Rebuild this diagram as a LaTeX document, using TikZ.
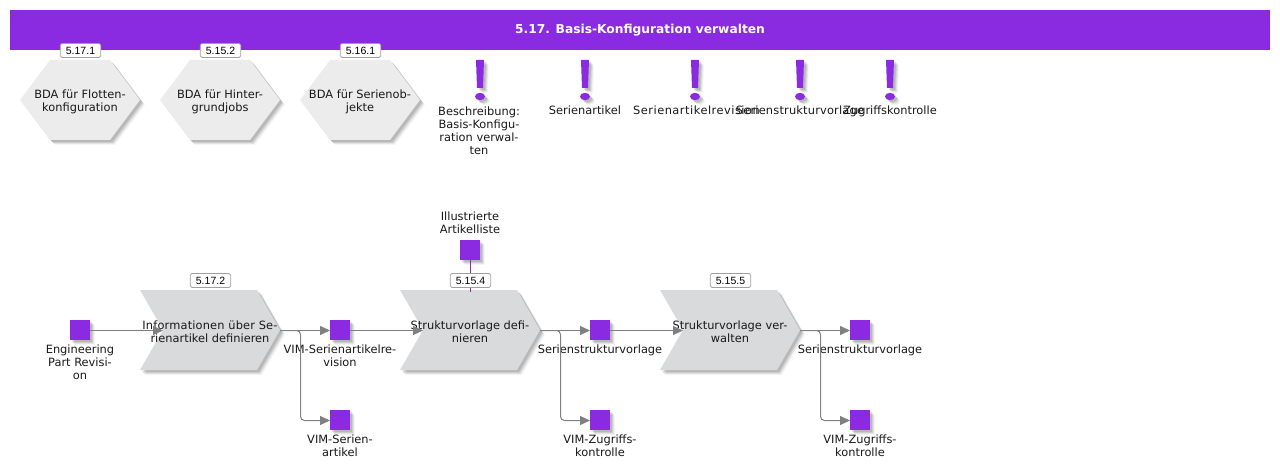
\documentclass[tikz,border=0pt]{standalone}
\usepackage{fontspec}
\setmainfont{DejaVu Sans}
\newfontfamily\badgefont{Liberation Sans}
\usetikzlibrary{arrows.meta,shadows}
\definecolor{violetA}{HTML}{8A2BE2}
\definecolor{hexfill}{HTML}{ECECEC}
\definecolor{procfill}{HTML}{D9DADC}
\definecolor{linkgray}{HTML}{808080}
\definecolor{linkviolet}{HTML}{8E2DA6}
\definecolor{badgeline}{HTML}{A0A0A0}
\tikzset{
  softshadow/.style={general shadow={shadow xshift=5pt,shadow yshift=-5pt,fill=black,opacity=.04},
                     general shadow={shadow xshift=4pt,shadow yshift=-4pt,fill=black,opacity=.07},
                     general shadow={shadow xshift=3pt,shadow yshift=-3pt,fill=black,opacity=.1},
                     general shadow={shadow xshift=2pt,shadow yshift=-2pt,fill=black,opacity=.1}},
  square/.style={rectangle,fill=violetA,minimum size=20pt,inner sep=0pt,outer sep=0pt,softshadow},
  lbl/.style={align=center,inner sep=0pt,font=\fontsize{11.4pt}{13pt}\selectfont,text=black!90},
  badge/.style={rectangle,rounded corners=1.6pt,draw=badgeline,line width=.7pt,fill=white,minimum width=40.5pt,minimum height=14pt,inner sep=0pt,font=\badgefont\fontsize{10.5pt}{12pt}\selectfont},
  box/.style={rectangle,minimum width=#1,minimum height=80pt,inner sep=0pt,outer sep=0pt,align=center,font=\fontsize{11.4pt}{13pt}\selectfont,text=black!90},
  link/.style={draw=linkgray,line width=1pt,rounded corners=4pt,-{Triangle[length=10pt,width=9pt,fill=linkgray]}},
}
\newcommand{\polyshadow}[1]{%
  \fill[black,opacity=.04,shift={(5pt,-5pt)}] #1;
  \fill[black,opacity=.07,shift={(4pt,-4pt)}] #1;
  \fill[black,opacity=.10,shift={(3pt,-3pt)}] #1;
  \fill[black,opacity=.10,shift={(2pt,-2pt)}] #1;}
\newcommand{\hexshape}[2]{%
  \polyshadow{(#1-60,#2) -- (#1-30,#2-40) -- (#1+30,#2-40) -- (#1+60,#2) -- (#1+30,#2+40) -- (#1-30,#2+40) -- cycle}
  \fill[hexfill] (#1-60,#2) -- (#1-30,#2-40) -- (#1+30,#2-40) -- (#1+60,#2) -- (#1+30,#2+40) -- (#1-30,#2+40) -- cycle;}
\newcommand{\chevshape}[2]{%
  \polyshadow{(#1-70,#2-40) -- (#1+47,#2-40) -- (#1+70,#2) -- (#1+47,#2+40) -- (#1-70,#2+40) -- (#1-47,#2) -- cycle}
  \fill[procfill] (#1-70,#2-40) -- (#1+47,#2-40) -- (#1+70,#2) -- (#1+47,#2+40) -- (#1-70,#2+40) -- (#1-47,#2) -- cycle;
  \coordinate (notch#1) at (#1-47,#2+.5);
  \coordinate (tip#1) at (#1+70,#2+.5);}
\newcommand{\bang}[1]{%
  \foreach \dx/\op in {5/.04,4/.07,3/.1,2/.1}{
    \fill[black,opacity=\op] (#1-4+\dx,60+\dx) -- (#1+4+\dx,60+\dx) -- (#1+3+\dx,88+\dx) -- (#1-3+\dx,88+\dx) -- cycle;
    \fill[black,opacity=\op] (#1+\dx,96.5+\dx) ellipse (5pt and 3.7pt);}
  \fill[violetA] (#1-4,60) -- (#1+4,60) -- (#1+3,88) -- (#1-3,88) -- cycle;
  \fill[violetA] (#1,96.5) ellipse (5pt and 3.7pt);}
\begin{document}
\begin{tikzpicture}[x=1pt,y=-1pt]
\useasboundingbox (0,0) rectangle (1280,468);
% header
\node[rectangle,fill=violetA,minimum width=1260pt,minimum height=40pt,inner sep=0pt,text=white,font=\bfseries\fontsize{12.25pt}{14pt}\selectfont] (head) at (640,30) {5.17. Basis-Konfiguration verwalten};
% top hexagons
\hexshape{80}{100}\hexshape{220}{100}\hexshape{360}{100}
\node[box=120pt] (h1) at (80,102) {BDA für Flotten-\\konfiguration};
\node[box=120pt] (h2) at (220,102) {BDA für Hinter-\\grundjobs};
\node[box=120pt] (h3) at (360,102) {BDA für Serienob-\\jekte};
\node[badge] (b1) at (80.5,50.5) {5.17.1};
\node[badge] (b2) at (220.5,50.5) {5.15.2};
\node[badge] (b3) at (360.5,50.5) {5.16.1};
% exclamation marks
\bang{480}\bang{585}\bang{695}\bang{800}\bang{890}
\node[lbl,anchor=north] (t1) at (479,107) {Beschreibung:\\Basis-Konfigu-\\ration verwal-\\ten};
\node[lbl,anchor=north] (t2) at (585,106) {Serienartikel};
\node[lbl,anchor=north] (t3) at (696.5,105.5) {\addfontfeature{LetterSpace=4.4}Serienartikelrevision};
\node[lbl,anchor=north] (t4) at (800,106) {\addfontfeature{LetterSpace=1.6}Serienstrukturvorlage};
\node[lbl,anchor=north] (t5) at (890,106) {Zugriffskontrolle};
% processes
\chevshape{210}{330}\chevshape{470}{330}\chevshape{730}{330}
\node[box=140pt] (p1) at (210,331.5) {{\addfontfeature{LetterSpace=1.4}Informationen über Se-}\\rienartikel definieren};
\node[box=140pt] (p2) at (470,331.5) {Strukturvorlage defi-\\nieren};
\node[box=140pt] (p3) at (730,331.5) {Strukturvorlage ver-\\walten};
% squares
\node[square] (s0) at (80,330) {};
\node[square] (s1) at (340,330) {};
\node[square] (s2) at (340,420) {};
\node[square] (s3) at (600,330) {};
\node[square] (s4) at (600,420) {};
\node[square] (s5) at (860,330) {};
\node[square] (s6) at (860,420) {};
\node[square] (s7) at (470,250) {};
% labels
\node[lbl,anchor=north] (l0) at (s0.south) [yshift=-4.5pt] {Engineering\\Part Revisi-\\on};
\node[lbl,anchor=north] (l1) at (s1.south) [yshift=-4.5pt] {VIM-Serienartikelre-\\vision};
\node[lbl,anchor=north] (l2) at (s2.south) [yshift=-4.5pt] {VIM-Serien-\\artikel};
\node[lbl,anchor=north] (l3) at (s3.south) [yshift=-4.5pt] {Serienstrukturvorlage};
\node[lbl,anchor=north] (l4) at (s4.south) [yshift=-4.5pt] {VIM-Zugriffs-\\kontrolle};
\node[lbl,anchor=north] (l5) at (s5.south) [yshift=-4.5pt] {Serienstrukturvorlage};
\node[lbl,anchor=north] (l6) at (s6.south) [yshift=-4.5pt] {VIM-Zugriffs-\\kontrolle};
\node[lbl,anchor=south] (l7) at (s7.north) [yshift=6pt] {Illustrierte\\Artikelliste};
% connectors
\draw[link] ([yshift=-.5pt]s0.east) -- (notch210);
\draw[link] (tip210) -- ([yshift=-.5pt]s1.west);
\draw[link] (tip210) -- (300.5,330.5) -- (300.5,420.5) -- ([yshift=-.5pt]s2.west);
\draw[link] ([yshift=-.5pt]s1.east) -- (notch470);
\draw[link] (tip470) -- ([yshift=-.5pt]s3.west);
\draw[link] (tip470) -- (560.5,330.5) -- (560.5,420.5) -- ([yshift=-.5pt]s4.west);
\draw[link] ([yshift=-.5pt]s3.east) -- (notch730);
\draw[link] (tip730) -- ([yshift=-.5pt]s5.west);
\draw[link] (tip730) -- (820.5,330.5) -- (820.5,420.5) -- ([yshift=-.5pt]s6.west);
\draw[linkviolet,line width=1pt] ([xshift=.5pt]s7.south) -- ([xshift=.5pt]p2.north);
% badges on processes
\node[badge] (b4) at (210.5,280.5) {5.17.2};
\node[badge] (b5) at (470.5,280.5) {5.15.4};
\node[badge] (b6) at (730.5,280.5) {5.15.5};
\end{tikzpicture}
\end{document}
